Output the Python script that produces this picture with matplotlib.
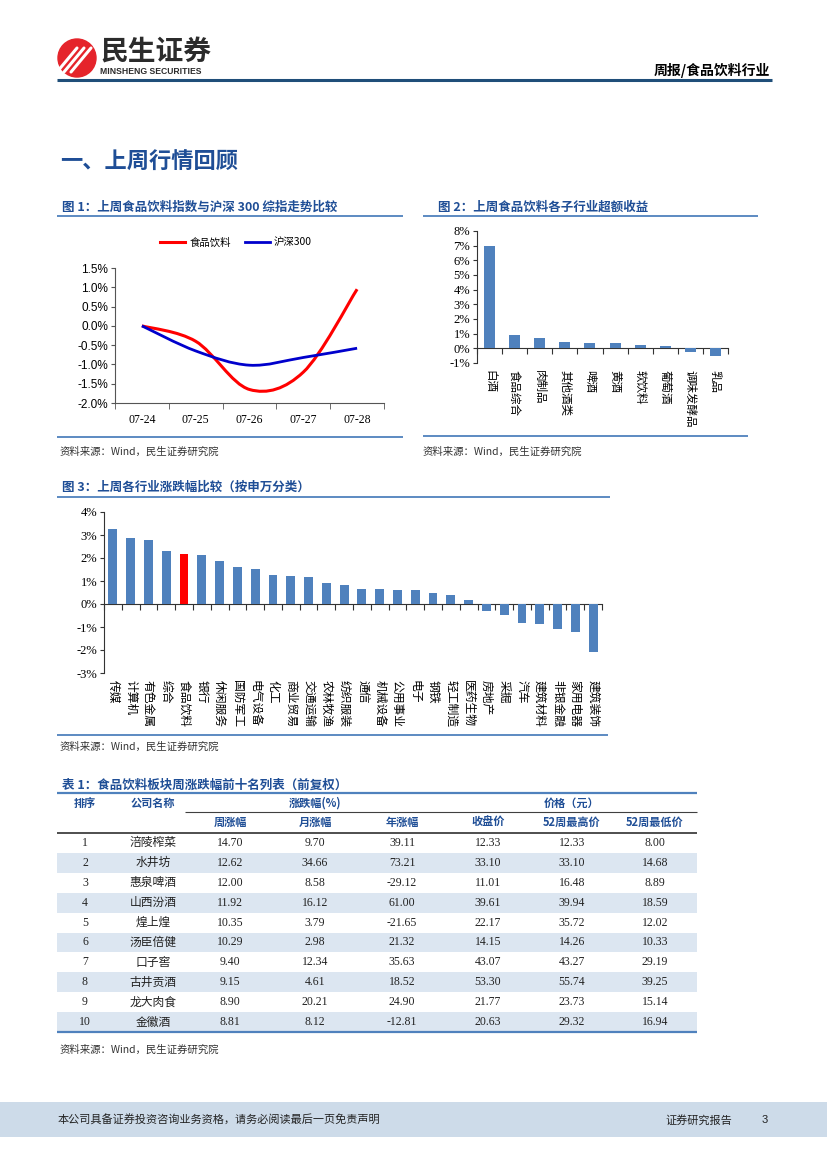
import numpy as np
import matplotlib
matplotlib.use("Agg")
from matplotlib import pyplot as plt
from matplotlib.path import Path
from matplotlib.patches import PathPatch, Rectangle, Circle
from matplotlib.lines import Line2D

# page size in pixels
W, H = 827, 1169

CJK = ['Noto Sans CJK SC', 'DejaVu Sans']
SERIF = ['Liberation Serif', 'Noto Sans CJK SC']
ARIAL = ['Liberation Sans', 'Noto Sans CJK SC']
TITLE_BLUE = '#1f4e96'
BAR_BLUE = '#4f81bd'
RULE_BLUE = '#4f81bd'

# ---- figure 1 data: daily cumulative change (%)
dates = ['07-24', '07-25', '07-26', '07-27', '07-28']
food_index = [0.0, -0.40, -1.65, -1.20, 0.95]
hs300_index = [0.0, -0.65, -1.02, -0.82, -0.58]

# ---- figure 2 data: sub-industry excess return (%)
sub_names = ['白酒', '食品综合', '肉制品', '其他酒类', '啤酒', '黄酒',
             '软饮料', '葡萄酒', '调味发酵品', '乳品']
sub_excess = [7.0, 0.92, 0.72, 0.40, 0.33, 0.33, 0.22, 0.18, -0.25, -0.50]

# ---- figure 3 data: industry weekly change (%)
ind_names = ['传媒', '计算机', '有色金属', '综合', '食品饮料', '银行', '休闲服务',
             '国防军工', '电气设备', '化工', '商业贸易', '交通运输', '农林牧渔',
             '纺织服装', '通信', '机械设备', '公用事业', '电子', '钢铁', '轻工制造',
             '医药生物', '房地产', '采掘', '汽车', '建筑材料', '非银金融',
             '家用电器', '建筑装饰']
ind_change = [3.26, 2.87, 2.77, 2.32, 2.19, 2.13, 1.88, 1.61, 1.54, 1.28, 1.23,
              1.17, 0.91, 0.84, 0.65, 0.65, 0.61, 0.61, 0.49, 0.41, 0.19, -0.32,
              -0.46, -0.84, -0.86, -1.09, -1.20, -2.09]

# ---- table 1 data
rank = ['1', '2', '3', '4', '5', '6', '7', '8', '9', '10']
company = ['涪陵榨菜', '水井坊', '惠泉啤酒', '山西汾酒', '煌上煌', '汤臣倍健',
           '口子窖', '古井贡酒', '龙大肉食', '金徽酒']
week_chg = ['14.70', '12.62', '12.00', '11.92', '10.35', '10.29', '9.40', '9.15', '8.90', '8.81']
month_chg = ['9.70', '34.66', '8.58', '16.12', '3.79', '2.98', '12.34', '4.61', '20.21', '8.12']
year_chg = ['39.11', '73.21', '-29.12', '61.00', '-21.65', '21.32', '35.63', '18.52', '24.90', '-12.81']
close_px = ['12.33', '33.10', '11.01', '39.61', '22.17', '14.15', '43.07', '53.30', '21.77', '20.63']
high_52w = ['12.33', '33.10', '16.48', '39.94', '35.72', '14.26', '43.27', '55.74', '23.73', '29.32']
low_52w = ['8.00', '14.68', '8.89', '18.59', '12.02', '10.33', '29.19', '39.25', '15.14', '16.94']


fig = plt.figure(figsize=(W / 100, H / 100), dpi=100)

# page layer in pixel coordinates (y grows downwards)
page = fig.add_axes([0, 0, 1, 1], zorder=0)
page.set_xlim(0, W)
page.set_ylim(H, 0)
page.axis('off')


def px_axes(x0, y0, x1, y1):
    ax = fig.add_axes([x0 / W, 1 - y1 / H, (x1 - x0) / W, (y1 - y0) / H], zorder=2)
    ax.set_facecolor('none')
    return ax


def rule(y, x0, x1, color=RULE_BLUE, lw=1.3):
    page.plot([x0, x1], [y, y], color=color, lw=lw, solid_capstyle='butt')


# ---------------- header
page.add_patch(Circle((77, 58), 19, color='#e5242b'))
for dx in (-9, -2, 5):
    page.plot([66 + dx, 86 + dx], [72, 48], color='white', lw=2.2, solid_capstyle='round')
page.text(100, 53, '民生证券', fontsize=20, fontweight='bold', color='#2b2b2b',
          family=CJK, va='center', ha='left')
page.text(100, 71, 'MINSHENG SECURITIES', fontsize=6.2, fontweight='bold', color='#2b2b2b',
          family=ARIAL, va='center', ha='left')
page.text(770, 70, '周报/食品饮料行业', fontsize=10, fontweight='bold', color='black',
          family=CJK, va='center', ha='right')
rule(80, 57, 772, color='#1f4e79', lw=2.2)

page.text(60, 162, '一、上周行情回顾', fontsize=16, fontweight='bold', color=TITLE_BLUE,
          family=CJK, va='center', ha='left')

# ---------------- figure titles / rules / sources
page.text(62, 207, '图 1：上周食品饮料指数与沪深 300 综指走势比较', fontsize=9,
          fontweight='bold', color=TITLE_BLUE, family=CJK, va='center')
rule(216, 57, 403)
rule(437, 57, 403)
page.text(60, 452, '资料来源：Wind，民生证券研究院', fontsize=7.5, color='#333333',
          family=CJK, va='center')

page.text(438, 207, '图 2：上周食品饮料各子行业超额收益', fontsize=9,
          fontweight='bold', color=TITLE_BLUE, family=CJK, va='center')
rule(216, 423, 758)
rule(436, 423, 748)
page.text(423, 452, '资料来源：Wind，民生证券研究院', fontsize=7.5, color='#333333',
          family=CJK, va='center')

page.text(62, 487, '图 3：上周各行业涨跌幅比较（按申万分类）', fontsize=9,
          fontweight='bold', color=TITLE_BLUE, family=CJK, va='center')
rule(497, 57, 610)
rule(735, 57, 608)
page.text(60, 747, '资料来源：Wind，民生证券研究院', fontsize=7.5, color='#333333',
          family=CJK, va='center')

# ---------------- figure 1: smoothed lines
ax1 = px_axes(115, 268, 384, 403)


def smooth_path(xs, ys):
    pts = np.column_stack([xs, ys]).astype(float)
    ext = np.vstack([pts[0], pts, pts[-1]])
    verts = [pts[0]]
    codes = [Path.MOVETO]
    for i in range(len(pts) - 1):
        p0, p1, p2, p3 = ext[i], ext[i + 1], ext[i + 2], ext[i + 3]
        verts += [p1 + (p2 - p0) / 6, p2 - (p3 - p1) / 6, p2]
        codes += [Path.CURVE4] * 3
    return Path(verts, codes)


xpos = np.arange(len(dates))
ax1.add_patch(PathPatch(smooth_path(xpos, food_index), fill=False, edgecolor='#ff0000', lw=2.2))
ax1.add_patch(PathPatch(smooth_path(xpos, hs300_index), fill=False, edgecolor='#0000cc', lw=2.0))
ax1.set_xlim(-0.5, len(dates) - 0.5)
ax1.set_ylim(-2.0, 1.5)
ax1.set_xticks(xpos)
ax1.set_xticklabels(dates, family=SERIF, fontsize=8.5)
ax1.set_xticks(np.arange(-0.5, len(dates), 1), minor=True)
ax1.tick_params(axis='x', which='major', length=0, pad=8)
ax1.tick_params(axis='x', which='minor', length=4, color='#555555')
yt = np.arange(-2.0, 1.51, 0.5)
ax1.set_yticks(yt)
ax1.set_yticklabels([f'{v:.1f}%' for v in yt], family=ARIAL, fontsize=8.5)
ax1.tick_params(axis='y', length=3, color='#555555', pad=2)
for s in ('top', 'right'):
    ax1.spines[s].set_visible(False)
for s in ('left', 'bottom'):
    ax1.spines[s].set_color('#555555')
handles = [Line2D([], [], color='#ff0000', lw=2.2), Line2D([], [], color='#0000cc', lw=2.0)]
ax1.legend(handles, ['食品饮料', '沪深300'], loc='center', bbox_to_anchor=(0.45, 1.19),
           ncol=2, frameon=False, handlelength=2.4, columnspacing=1.3, handletextpad=0.4,
           prop={'family': CJK, 'size': 7.5})


def bar_axes(ax, names, values, colors, ymin, ymax, width, label_size):
    x = np.arange(len(names))
    ax.bar(x, values, width=width, color=colors, zorder=3)
    ax.set_xlim(-0.5, len(names) - 0.5)
    ax.set_ylim(ymin, ymax)
    ax.set_xticks(x)
    ax.set_xticklabels(names, rotation=-90, va='top', ha='center',
                       family=CJK, fontsize=label_size)
    ax.tick_params(axis='x', length=0, pad=5)
    yt = np.arange(ymin, ymax + 1)
    ax.set_yticks(yt)
    ax.set_yticklabels([f'{v}%' for v in yt], family=SERIF, fontsize=9)
    ax.tick_params(axis='y', length=3, color='#333333', pad=2)
    for s in ('top', 'right', 'bottom'):
        ax.spines[s].set_visible(False)
    ax.spines['left'].set_color('#333333')
    zero = ax.secondary_xaxis((0 - ymin) / (ymax - ymin))
    zero.set_xticks(np.arange(-0.5, len(names), 1))
    zero.set_xticklabels([])
    zero.tick_params(length=4, color='#333333')
    for s in zero.spines.values():
        s.set_color('#333333')


# ---------------- figure 2
ax2 = px_axes(477, 231, 728, 363)
bar_axes(ax2, sub_names, sub_excess, BAR_BLUE, -1, 8, 0.44, 8.3)

# ---------------- figure 3
ax3 = px_axes(104, 512, 602, 673)
ind_colors = ['#ff0000' if n == '食品饮料' else BAR_BLUE for n in ind_names]
bar_axes(ax3, ind_names, ind_change, ind_colors, -3, 4, 0.5, 8.5)

# ---------------- table 1
page.text(62, 785, '表 1：食品饮料板块周涨跌幅前十名列表（前复权）', fontsize=9,
          fontweight='bold', color=TITLE_BLUE, family=CJK, va='center')
tx0, tx1 = 57, 697
col_x = [85, 153, 230, 315, 402, 488, 572, 655]
row_h = 19.9
body_top = 833

for i in range(len(rank)):
    if i % 2 == 1:
        page.add_patch(Rectangle((tx0, body_top + i * row_h), tx1 - tx0, row_h,
                                 color='#dce6f1', lw=0, zorder=0))

rule(793, tx0, tx1, color=RULE_BLUE, lw=1.6)
rule(812, 185, tx1, color='#404040', lw=0.8)
rule(body_top, tx0, tx1, color='#404040', lw=1.3)
rule(body_top + 10 * row_h, tx0, tx1, color=RULE_BLUE, lw=1.6)

hdr = dict(fontsize=8, fontweight='bold', color=TITLE_BLUE, family=CJK,
           ha='center', va='center')
page.text(col_x[0], 803, '排序', **hdr)
page.text(col_x[1], 803, '公司名称', **hdr)
page.text(col_x[3], 803, '涨跌幅(%)', **hdr)
page.text(col_x[6], 803, '价格（元）', **hdr)
for cx, lab in zip(col_x[2:], ['周涨幅', '月涨幅', '年涨幅', '收盘价', '52周最高价', '52周最低价']):
    page.text(cx, 822, lab, **hdr)

columns = [rank, company, week_chg, month_chg, year_chg, close_px, high_52w, low_52w]
for j, col in enumerate(columns):
    fam = CJK if j == 1 else SERIF
    for i, val in enumerate(col):
        page.text(col_x[j], body_top + (i + 0.5) * row_h, val, fontsize=8.5,
                  color='#222222', family=fam, ha='center', va='center')

page.text(60, 1050, '资料来源：Wind，民生证券研究院', fontsize=7.5, color='#333333',
          family=CJK, va='center')

# ---------------- footer
page.add_patch(Rectangle((0, 1102), W, 35, color='#cddbe9', lw=0))
page.text(58, 1120, '本公司具备证券投资咨询业务资格，请务必阅读最后一页免责声明',
          fontsize=8, color='#222222', family=CJK, va='center')
page.text(665, 1120, '证券研究报告', fontsize=8, color='#222222', family=CJK, va='center')
page.text(762, 1120, '3', fontsize=8, color='#222222', family=ARIAL, va='center')

fig.savefig('out.png', dpi=100)
